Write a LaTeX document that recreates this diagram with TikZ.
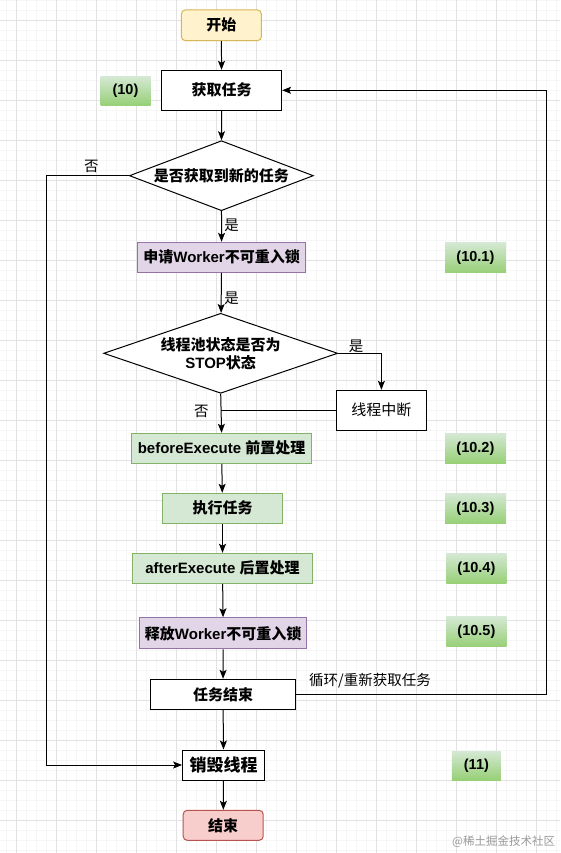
\documentclass[tikz,border=0pt]{standalone}
\usepackage{fontspec}
\setmainfont{Liberation Sans}
\newfontfamily\cjk{Noto Sans CJK SC}
\usetikzlibrary{shapes.geometric,arrows.meta}
\definecolor{startfill}{HTML}{FFF2CC}
\definecolor{startdraw}{HTML}{D6B656}
\definecolor{endfill}{HTML}{F8CECC}
\definecolor{enddraw}{HTML}{B85450}
\definecolor{purpfill}{HTML}{E1D5E7}
\definecolor{purpdraw}{HTML}{9673A6}
\definecolor{grnfill}{HTML}{D5E8D4}
\definecolor{grndraw}{HTML}{82B366}
\definecolor{tagtop}{HTML}{D5E8D4}
\definecolor{tagbot}{HTML}{97D077}
\definecolor{gridmajor}{HTML}{E2E2E2}
\definecolor{gridminor}{HTML}{F6F6F6}
\begin{document}
\begin{tikzpicture}[x=1pt,y=-1pt,
  txt/.style={font=\fontsize{15}{18}\selectfont\bfseries},
  plain/.style={font=\fontsize{15}{18}\selectfont\cjk},
  boxnode/.style={draw=black, line width=1pt, fill=white, inner sep=0pt, txt},
  startnode/.style={draw=startdraw, fill=startfill, rounded corners=4pt, line width=1pt, inner sep=0pt, txt},
  endnode/.style={draw=enddraw, fill=endfill, rounded corners=4pt, line width=1pt, inner sep=0pt, txt},
  purpnode/.style={draw=purpdraw, fill=purpfill, line width=1pt, inner sep=0pt, txt},
  grnnode/.style={draw=grndraw, fill=grnfill, line width=1pt, inner sep=0pt, txt},
  decision/.style={diamond, draw=black, line width=1pt, fill=white, inner sep=0pt, txt, align=center},
  tagnode/.style={top color=tagtop, bottom color=tagbot, draw=none, inner sep=0pt, minimum width=50pt, minimum height=29pt, font=\fontsize{14.5}{17}\selectfont\bfseries},
  lbl/.style={font=\fontsize{14.5}{17}\selectfont\cjk, inner sep=0pt},
  conn/.style={line width=1pt, draw=black},
  arr/.style={conn, -{Stealth[length=9pt,width=7pt,inset=2pt]}}
]
\useasboundingbox (0,0) rectangle (560,853);
\fill[white] (0,0) rectangle (560,853);
% grid
\foreach \x in {6.7,16.7,...,560} \draw[gridminor, line width=0.6pt] (\x,0) -- (\x,853);
\foreach \y in {0,10,...,853} \draw[gridminor, line width=0.6pt] (0,\y) -- (560,\y);
\foreach \x in {16.7,56.7,...,560} \draw[gridmajor, line width=0.8pt] (\x,0) -- (\x,853);
\foreach \y in {20,60,...,853} \draw[gridmajor, line width=0.8pt] (0,\y) -- (560,\y);

% nodes
\node[startnode, minimum width=80pt, minimum height=30.7pt] (start) at (221.4,25.3) {\cjk 开始};
\node[boxnode, minimum width=120pt, minimum height=40pt] (fetch) at (221.6,90.3) {\cjk 获取任务};
\node[tagnode] (t10) at (125.5,90.7) {(10)};
\node[decision, minimum width=184pt, minimum height=70pt, shape aspect=2.63] (d1) at (221.4,175.7) {\cjk 是否获取到新的任务};
\node[purpnode, minimum width=168pt, minimum height=30pt] (lock) at (221.6,257.3) {{\cjk 申请}Worker{\cjk 不可重入锁}};
\node[tagnode, minimum width=60.7pt, minimum height=30pt] (t101) at (475.4,257.7) {(10.1)};
\node[decision, minimum width=234pt, minimum height=80pt, shape aspect=2.925] (d2) at (220.7,353.3) {\cjk 线程池状态是否为\\STOP{\cjk 状态}};
\node[boxnode, minimum width=90pt, minimum height=40pt, plain] (intr) at (381.4,410.3) {线程中断};
\node[grnnode, minimum width=180pt, minimum height=30pt] (before) at (221.6,448.3) {beforeExecute {\cjk 前置处理}};
\node[tagnode, minimum width=60.7pt, minimum height=30pt] (t102) at (475.4,448.3) {(10.2)};
\node[grnnode, minimum width=120pt, minimum height=30pt] (exec) at (222.5,508.3) {\cjk 执行任务};
\node[tagnode, minimum width=60.7pt, minimum height=30pt] (t103) at (475.4,508.3) {(10.3)};
\node[grnnode, minimum width=180pt, minimum height=30pt] (after) at (222.5,568.3) {afterExecute {\cjk 后置处理}};
\node[tagnode, minimum width=60pt, minimum height=30pt] (t104) at (476.4,568.3) {(10.4)};
\node[purpnode, minimum width=167pt, minimum height=31pt] (unlock) at (223.2,633.3) {{\cjk 释放}Worker{\cjk 不可重入锁}};
\node[tagnode, minimum width=60pt, minimum height=30pt] (t105) at (476.4,631.7) {(10.5)};
\node[boxnode, minimum width=145pt, minimum height=30pt] (done) at (223,694.3) {\cjk 任务结束};
\node[boxnode, minimum width=82pt, minimum height=30pt, font=\fontsize{17}{20}\selectfont\bfseries] (destroy) at (223.6,765) {\cjk 销毁线程};
\node[tagnode, minimum width=49pt, minimum height=29pt] (t11) at (476.4,765.5) {(11)};
\node[endnode, minimum width=80pt, minimum height=30pt] (end) at (223.2,825.3) {\cjk 结束};

% coordinates
\coordinate (lefttop) at (46.4,175.7);
\coordinate (leftbot) at (46.4,765);
\coordinate (rightbot) at (546.4,694.3);
\coordinate (righttop) at (546.4,90.3);
\coordinate (yescorner) at (381.4,353.3);
\coordinate (join) at (221.4,410.3);

% connectors
\draw[arr] (start) -- (fetch);
\draw[arr] (fetch) -- (d1);
\draw[arr] (d1) -- (lock);
\draw[arr] (lock) -- (d2);
\draw[arr] (d2.east) -- (yescorner) -- (intr.north);
\draw[conn] (intr.west) -- (join);
\draw[arr] (d2.south) -- (before.north);
\draw[arr] (before) -- (exec);
\draw[arr] (exec) -- (after);
\draw[arr] (after) -- (unlock);
\draw[arr] (unlock) -- (done);
\draw[arr] (done) -- (destroy);
\draw[arr] (destroy) -- (end);
\draw[arr] (d1.west) -- (lefttop) -- (leftbot) -- (destroy.west);
\draw[arr] (done.east) -- (rightbot) -- (righttop) -- (fetch.east);

% labels
\node[lbl] (l1) at (91.4,166) {否};
\node[lbl] (l2) at (231.6,225) {是};
\node[lbl] (l3) at (231.6,298) {是};
\node[lbl] (l4) at (356,346) {是};
\node[lbl] (l5) at (201.4,411) {否};
\node[lbl] (l6) at (370,681) {循环/重新获取任务};
\node[inner sep=0pt, font=\fontsize{11.5}{13}\selectfont\cjk, text=black!40] (wm) at (503.6,842) {@稀土掘金技术社区};
\end{tikzpicture}
\end{document}
